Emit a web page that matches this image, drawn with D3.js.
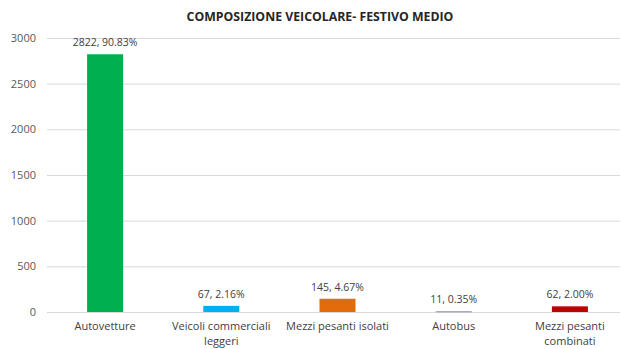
<!DOCTYPE html>
<html>
<head>
<meta charset="utf-8">
<script src="https://cdn.jsdelivr.net/npm/d3@7"></script>
<style>
  html, body { margin: 0; padding: 0; background: #ffffff; }
  svg { display: block; }
  text { font-family: "Open Sans", "Liberation Sans", sans-serif; }
</style>
</head>
<body>
<svg id="chart" width="621" height="349"></svg>
<script>
// Composizione veicolare - festivo medio
const categories = ["Autovetture", "Veicoli commerciali leggeri", "Mezzi pesanti isolati", "Autobus", "Mezzi pesanti combinati"];
const categoryLines = [["Autovetture"], ["Veicoli commerciali", "leggeri"], ["Mezzi pesanti isolati"], ["Autobus"], ["Mezzi pesanti", "combinati"]];
const values = [2822, 67, 145, 11, 62];
const percents = ["90.83%", "2.16%", "4.67%", "0.35%", "2.00%"];
const colors = ["#00b050", "#00b0f0", "#e36c0a", "#b0a8cc", "#c00000"];
const yTicks = [0, 500, 1000, 1500, 2000, 2500, 3000];
const title = "COMPOSIZIONE VEICOLARE- FESTIVO MEDIO";

const svg = d3.select("#chart");
const plotLeft = 47, plotRight = 628, plotTop = 38, plotBottom = 312;

const x = d3.scaleBand().domain(categories).range([plotLeft, plotRight]).paddingInner(0.69).paddingOuter(0.345);
const y = d3.scaleLinear().domain([0, 3000]).range([plotBottom, plotTop]);

// title
svg.append("text")
  .attr("x", 320).attr("y", 21)
  .attr("text-anchor", "middle")
  .attr("font-size", 12.3).attr("font-weight", 700)
  .attr("fill", "#262626")
  .text(title);

// gridlines
svg.append("g")
  .selectAll("line")
  .data(yTicks)
  .join("line")
  .attr("x1", plotLeft).attr("x2", 620)
  .attr("y1", d => y(d) + 0.5).attr("y2", d => y(d) + 0.5)
  .attr("stroke", "#d9d9d9").attr("stroke-width", 1);

// y axis labels
const yAxis = d3.axisLeft(y).tickValues(yTicks).tickSize(0).tickPadding(0).tickFormat(d3.format("d"));
const gy = svg.append("g").attr("transform", `translate(${plotLeft - 11},0)`).call(yAxis);
gy.select(".domain").remove();
gy.selectAll("text").attr("font-size", 11).attr("fill", "#595959")
  .style("font-family", "'Open Sans', 'Liberation Sans', sans-serif");

// bars
svg.append("g")
  .selectAll("rect")
  .data(values)
  .join("rect")
  .attr("x", (d, i) => x(categories[i]))
  .attr("width", x.bandwidth())
  .attr("y", d => y(d))
  .attr("height", d => Math.max(1.5, y(0) - y(d)))
  .attr("fill", (d, i) => colors[i]);

// value labels
svg.append("g")
  .selectAll("text")
  .data(values)
  .join("text")
  .attr("x", (d, i) => x(categories[i]) + x.bandwidth() / 2)
  .attr("y", d => Math.min(y(d), y(0) - 1.5) - 8)
  .attr("text-anchor", "middle")
  .attr("font-size", 10.5).attr("fill", "#404040")
  .text((d, i) => `${d}, ${percents[i]}`);

// category labels
const cg = svg.append("g");
categoryLines.forEach((lines, i) => {
  const t = cg.append("text")
    .attr("x", x(categories[i]) + x.bandwidth() / 2)
    .attr("y", 330)
    .attr("text-anchor", "middle")
    .attr("font-size", 11).attr("fill", "#404040");
  lines.forEach((ln, j) => {
    t.append("tspan").attr("x", x(categories[i]) + x.bandwidth() / 2)
      .attr("dy", j === 0 ? 0 : 14.5).text(ln);
  });
});
</script>
</body>
</html>
